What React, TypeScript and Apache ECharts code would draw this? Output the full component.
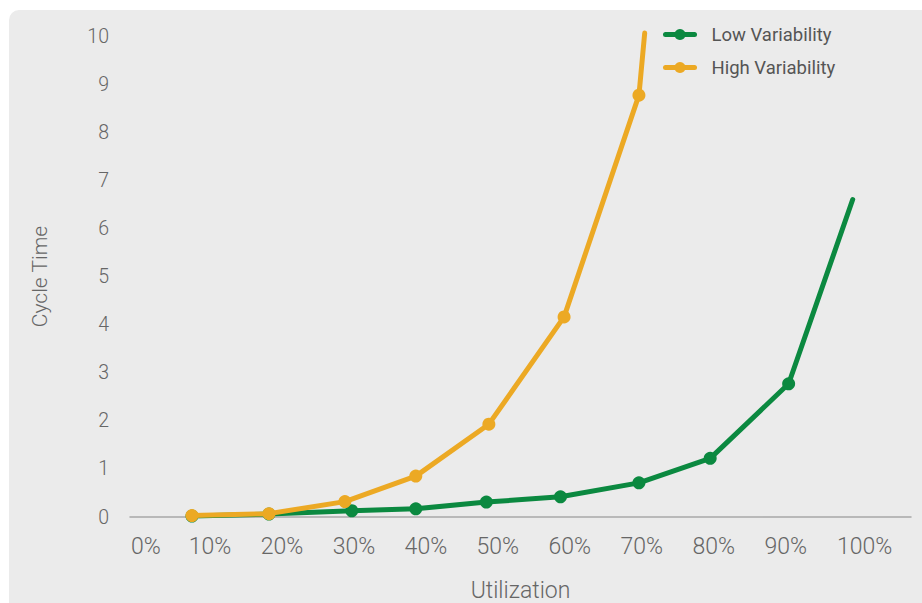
import React, { useEffect, useRef } from "react";
import * as echarts from "echarts";

const seriesNames = ["Low Variability", "High Variability"];
const lowUtil = [7.5, 18.2, 29.7, 38.6, 48.4, 58.7, 69.6, 79.5, 90.4, 99.3];
const lowCycle = [0.02, 0.06, 0.13, 0.17, 0.31, 0.42, 0.71, 1.22, 2.77, 6.6];
const highUtil = [7.5, 18.2, 28.75, 38.6, 48.75, 59.2, 69.6, 70.4];
const highCycle = [0.03, 0.07, 0.32, 0.85, 1.93, 4.16, 8.77, 10.06];
const xTicks = [0, 10, 20, 30, 40, 50, 60, 70, 80, 90, 100];
const yTicks = [0, 1, 2, 3, 4, 5, 6, 7, 8, 9, 10];

const GREEN = "#0b8940";
const ORANGE = "#eca924";
const FONT = "Roboto";

function pts(xs: number[], ys: number[]) {
  return xs.map((x, i) => {
    const item: any = { value: [x, ys[i]] };
    if (i === xs.length - 1) item.symbol = "none";
    return item;
  });
}

export default function App() {
  const ref = useRef<HTMLDivElement>(null);
  useEffect(() => {
    if (!ref.current) return;
    const chart = echarts.init(ref.current, null, { renderer: "svg" });
    chart.setOption({
      animation: false,
      backgroundColor: "transparent",
      textStyle: { fontFamily: FONT },
      grid: { left: 130, right: 11, top: 36, bottom: 86, outerBoundsMode: "none", containLabel: false },
      legend: {
        orient: "vertical",
        left: 658,
        top: 20,
        itemWidth: 29,
        itemHeight: 14,
        itemGap: 14,
        data: seriesNames,
        lineStyle: { width: 5, cap: "round" },
        textStyle: {
          fontFamily: FONT,
          fontSize: 18.5,
          color: "#555555",
          fontWeight: 400,
          padding: [0, 0, 0, 12],
        },
      },
      xAxis: {
        type: "value",
        min: -1.11,
        max: 107.4,
        offset: 2,
        name: "Utilization",
        nameLocation: "middle",
        nameGap: 60,
        nameTextStyle: { fontFamily: FONT, fontSize: 23, color: "#666666", fontWeight: 300 },
        axisLine: { show: true, lineStyle: { color: "#a8a8a8", width: 1.5 } },
        axisTick: { show: false },
        splitLine: { show: false },
        axisLabel: {
          customValues: xTicks,
          margin: 16,
          fontFamily: FONT,
          fontSize: 23,
          color: "#666666",
          fontWeight: 300,
          formatter: (v: number) => {
            if (v === 0) return "{s|0%}";
            if (v === 100) return "{e|100%}";
            return v + "%";
          },
          rich: {
            s: { padding: [0, 0, 0, 16], fontFamily: FONT, fontSize: 23, color: "#666666", fontWeight: 300 },
            e: { padding: [0, 0, 0, 14], fontFamily: FONT, fontSize: 23, color: "#666666", fontWeight: 300 },
          },
        },
      },
      yAxis: {
        type: "value",
        min: 0,
        max: 10,
        interval: 1,
        name: "Cycle Time",
        nameLocation: "middle",
        nameGap: 80,
        nameTextStyle: { fontFamily: FONT, fontSize: 21, color: "#666666", fontWeight: 300 },
        axisLine: { show: false },
        axisTick: { show: false },
        splitLine: { show: false },
        axisLabel: {
          customValues: yTicks,
          margin: 21,
          fontFamily: FONT,
          fontSize: 19.5,
          color: "#666666",
          fontWeight: 300,
        },
      },
      series: [
        {
          name: seriesNames[0],
          type: "line",
          data: pts(lowUtil, lowCycle),
          symbol: "circle",
          symbolSize: 13,
          clip: false,
          z: 2,
          itemStyle: { color: GREEN },
          lineStyle: { color: GREEN, width: 5, cap: "round", join: "round" },
        },
        {
          name: seriesNames[1],
          type: "line",
          data: pts(highUtil, highCycle),
          symbol: "circle",
          symbolSize: 13,
          clip: false,
          z: 3,
          itemStyle: { color: ORANGE },
          lineStyle: { color: ORANGE, width: 5, cap: "round", join: "round" },
        },
      ],
    });
    return () => chart.dispose();
  }, []);

  return (
    <div style={{ position: "fixed", left: 0, top: 0, width: 922, height: 603, background: "#ffffff", overflow: "hidden" }}>
      <div
        style={{
          position: "absolute",
          left: 9,
          top: 10,
          width: 940,
          height: 620,
          background: "#ebebeb",
          borderTopLeftRadius: 10,
        }}
      />
      <div ref={ref} style={{ position: "absolute", left: 0, top: 0, width: 922, height: 603 }} />
    </div>
  );
}
